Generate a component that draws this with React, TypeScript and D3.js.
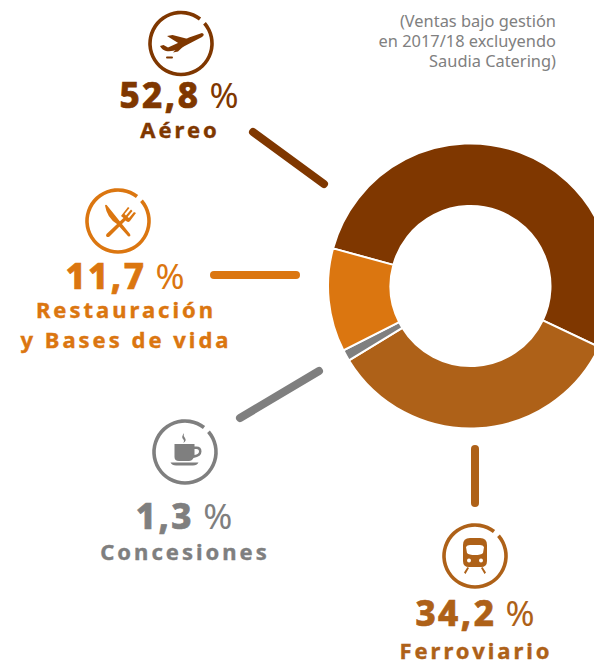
import React from "react";
import * as d3 from "d3";

const categories = ["Aéreo", "Ferroviario", "Concesiones", "Restauración y Bases de vida"];
const shares = [52.8, 34.2, 1.3, 11.7];
const shareLabels = ["52,8", "34,2", "1,3", "11,7"];
const colors = ["#7f3700", "#ae6118", "#7f7f7f", "#db7610"];
const note = ["(Ventas bajo gestión", "en 2017/18 excluyendo", "Saudia Catering)"];

const W = 594, H = 663;
const FONT = "'Noto Sans', 'Open Sans', sans-serif";
const START = (-74.7 * Math.PI) / 180;

const pie = d3.pie<number>().sort(null).startAngle(START).endAngle(START + 2 * Math.PI);
const arc = d3.arc<d3.PieArcDatum<number>>().innerRadius(80).outerRadius(142.5);

function Ring({ cx, cy, color }: { cx: number; cy: number; color: string }) {
  const a = d3.arc()({ innerRadius: 29.2, outerRadius: 32.8, startAngle: 0.86, endAngle: 0.66 + 2 * Math.PI, cornerRadius: 1.7 } as any)!;
  return <path d={a} transform={`translate(${cx},${cy})`} fill={color} />;
}

function Plane({ c }: { c: string }) {
  return <g fill={c}>
    <path d="M21,-10.5 Q24.5,-9 21,-6.5 L-3,6 Q-10,8.5 -15,7.5 Q-19,6.5 -21,2.5 L-17.5,1.5 L-13,4 L-2,-1 L8,-6 Z" />
    <path d="M-14,-7.5 L-8.5,-8.5 L7,-4.5 L-2,0 Z" />
    <path d="M-2,3 L7,-1.5 L-3,8 L-8,9 Z" />
    <rect x={-15} y={13} width={7} height={2} rx={1} />
  </g>;
}
function Cutlery({ c }: { c: string }) {
  return <g fill={c}>
    <path d="M-13,-15.5 Q-12,-17 -10.5,-15 L12,13 Q13,15.5 11,15.5 Q10,15.5 9,14 L-1,3 Q-11,-3 -13,-15.5 Z" />
    <path d="M-11.5,13 L5.5,-3 L3,-5 L10,-14 L11.5,-13 L6.5,-7 L8,-5.5 L13,-11.5 L14.5,-10 L9.5,-4 L11,-3 L16,-9 L18,-8 L12,0 Q10,2 7.5,-0.5 L-8.5,15.5 Q-10.5,16.5 -11.5,15.5 Q-12.5,14.5 -11.5,13 Z" />
  </g>;
}
function Cup({ c }: { c: string }) {
  return <g fill={c}>
    <path fillRule="evenodd" d="M-10.5,-8 H9.5 V-5.5 H11.5 Q16.5,-5.5 16.5,-0.5 Q16.5,4.5 8.5,6 Q7,9 4,9 H-6 Q-10.5,9 -10.5,5 Z M9.5,-3 V3 Q14,2 14,-0.5 Q14,-3 11.5,-3 Z" />
    <path d="M-14.5,10.5 H13.5 Q12,13.5 8,13.5 H-9 Q-13,13.5 -14.5,10.5 Z" />
    <path d="M-1,-19 Q-4,-15 -2,-13 Q0,-11 -2,-9 Q2,-11 0,-14 Q-2,-16 -1,-19 Z" />
  </g>;
}
function Train({ c }: { c: string }) {
  return <g fill={c}>
    <path fillRule="evenodd" d="M-12,-11 Q-12,-18 -5,-18 H5 Q12,-18 12,-11 V5 Q12,11 6,11 H-6 Q-12,11 -12,5 Z M-9,-9 Q-8,-11 -5,-11 H5 Q8,-11 9,-9 L8,-3 Q6,-1 0,-1 Q-6,-1 -8,-3 Z" />
    <circle cx={-6} cy={4.5} r={2} fill="#fff" />
    <circle cx={6} cy={4.5} r={2} fill="#fff" />
    <path d="M-6,12 L-7.5,11 L-11,16.5 L-9.5,18 Z M6,12 L7.5,11 L11,16.5 L9.5,18 Z" />
  </g>;
}

const blocks = [
  { i: 0, cx: 181, cy: 43.5, pctX: 179, pctY: 108, nameY: 138, Icon: Plane, lines: ["Aéreo"], leader: [253, 132, 324, 184] },
  { i: 3, cx: 118, cy: 221, pctX: 125, pctY: 289, nameY: 318, Icon: Cutlery, lines: ["Restauración", "y Bases de vida"], leader: [214, 275, 296, 275] },
  { i: 2, cx: 185, cy: 452, pctX: 184, pctY: 529, nameY: 560, Icon: Cup, lines: ["Concesiones"], leader: [240, 418, 319, 371] },
  { i: 1, cx: 475, cy: 556, pctX: 475, pctY: 626, nameY: 659, Icon: Train, lines: ["Ferroviario"], leader: [475, 449, 475, 503] },
];

export default function App() {
  const arcs = pie(shares);
  return (
    <svg width={W} height={H} viewBox={`0 0 ${W} ${H}`} style={{ position: "absolute", left: 0, top: 0, background: "#fff" }} fontFamily={FONT}>
      <g transform="translate(470.5,286)">
        {arcs.map((d, i) => (
          <path key={categories[i]} d={arc(d)!} fill={colors[i]} stroke="#fff" strokeWidth={2} />
        ))}
      </g>
      {note.map((t, i) => (
        <text key={t} x={556} y={27 + i * 20} textAnchor="end" fontSize={16.4} fill="#808080">{t}</text>
      ))}
      {blocks.map((b) => {
        const c = colors[b.i];
        const [x1, y1, x2, y2] = b.leader;
        return (
          <g key={b.i}>
            <line x1={x1} y1={y1} x2={x2} y2={y2} stroke={c} strokeWidth={8} strokeLinecap="round" />
            <Ring cx={b.cx} cy={b.cy} color={c} />
            <g transform={`translate(${b.cx},${b.cy})`}><b.Icon c={c} /></g>
            <text x={b.pctX} y={b.pctY} textAnchor="middle" fill={c} fontSize={35} fontWeight={800} letterSpacing={2.5} stroke={c} strokeWidth={0.7}>
              {shareLabels[b.i]}
              <tspan fontWeight={400} letterSpacing={0} strokeWidth={0}> %</tspan>
            </text>
            {b.lines.map((t, k) => (
              <text key={t} x={b.pctX + 1} y={b.nameY + k * 30} textAnchor="middle" fill={c} fontSize={22} fontWeight={700} letterSpacing={3} stroke={c} strokeWidth={0.4}>{t}</text>
            ))}
          </g>
        );
      })}
    </svg>
  );
}
